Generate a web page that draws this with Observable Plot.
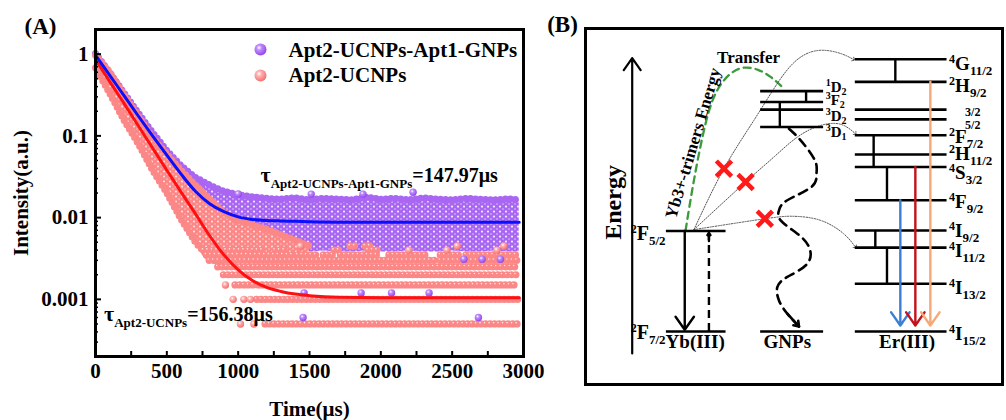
<!DOCTYPE html>
<html><head><meta charset="utf-8">
<script src="https://cdn.jsdelivr.net/npm/d3@7"></script>
<script src="https://cdn.jsdelivr.net/npm/@observablehq/plot@0.6"></script>
<style>
html,body{margin:0;padding:0;background:#fff;}
#wrap{position:relative;width:1006px;height:420px;overflow:hidden;}
#pa{position:absolute;left:0;top:0;}
#pb{position:absolute;left:540px;top:0;}
svg text{font-family:"Liberation Serif","Times New Roman",serif;font-weight:bold;fill:#000;}
</style></head><body><div id="wrap"><div id="pa"></div><div id="pb"></div></div>
<script>
// ================= Panel A data =================
const seriesNames = ["Apt2-UCNPs-Apt1-GNPs", "Apt2-UCNPs"];
const xMajor = [0, 500, 1000, 1500, 2000, 2500, 3000];
const xMinor = [250, 500, 750, 1000, 1250, 1500, 1750, 2000, 2250, 2500, 2750];
const yMajor = [1, 0.1, 0.01, 0.001];
const yMinor = [0.0003,0.0004,0.0005,0.0006,0.0007,0.0008,0.0009,0.002,0.003,0.004,0.005,0.006,0.007,0.008,0.009,0.02,0.03,0.04,0.05,0.06,0.07,0.08,0.09,0.2,0.3,0.4,0.5,0.6,0.7,0.8,0.9];

// fitted decay curves
const fitT    = [0,100,200,300,400,500,600,700,800,900,1000,1100,1200,1300,1400,1500,1700,2000,2500,2970];
const fitBlue = [0.97,0.55,0.31,0.175,0.1,0.058,0.034,0.021,0.0148,0.0118,0.0102,0.0095,0.0092,0.0091,0.009,0.0089,0.0088,0.0088,0.0088,0.0088];
const fitRed  = [0.86,0.46,0.25,0.133,0.071,0.038,0.0205,0.0112,0.006,0.0035,0.0023,0.0017,0.0014,0.00125,0.00116,0.00111,0.00106,0.00105,0.00105,0.00105];

// Apt2-UCNPs-Apt1-GNPs measured points: envelope of the dense cloud
const purpleT  = [0,100,200,300,400,500,600,700,800,900,1000,1100,1200,1300,1400,1500,1600,1700,1800,1900,2000,2100,2200,2300,2400,2500,2600,2700,2800,2900,2970];
const purpleLo = [0.8,0.42,0.23,0.13,0.07,0.038,0.021,0.012,0.008,0.006,0.0048,0.0042,0.004,0.0039,0.0038,0.0038,0.0039,0.0038,0.0038,0.0039,0.0038,0.0038,0.0039,0.0038,0.0038,0.0039,0.0038,0.0038,0.0039,0.0038,0.0038];
const purpleHi = [1.02,0.59,0.335,0.19,0.11,0.066,0.043,0.031,0.025,0.021,0.019,0.018,0.0172,0.0168,0.0175,0.0165,0.0172,0.0168,0.0165,0.0178,0.0168,0.0172,0.0165,0.0175,0.0168,0.0165,0.0172,0.0168,0.0165,0.017,0.0165];
// isolated Apt2-UCNPs-Apt1-GNPs points
const purpleOutT = [1000,1512,1875,2226,1462,1862,2075,2338,1455,2684,2582,2710,2838];
const purpleOutV = [0.0195,0.0194,0.0194,0.0204,0.0012,0.0012,0.0012,0.0012,0.0006,0.0006,0.0031,0.0031,0.0031];

// Apt2-UCNPs measured points: dense decay band
const pinkT  = [0,100,200,300,400,500,600,700,800,900,1000,1100,1200,1300,1400,1500];
const pinkLo = [0.68,0.33,0.155,0.08,0.038,0.02,0.0095,0.005,0.0032,0.0027,0.0032,0.0034,0.0035,0.0035,0.0036,0.0038];
const pinkHi = [0.97,0.6,0.32,0.175,0.095,0.06,0.038,0.025,0.017,0.0115,0.0092,0.0082,0.0072,0.0062,0.0053,0.0045];
// Apt2-UCNPs discrete count levels: level, start, end time
const pinkRowV  = [0.0005,0.0005,0.0005, 0.001,0.001,0.001,0.001, 0.0015,0.0015, 0.002, 0.0025, 0.003,0.003,0.003, 0.0035,0.0035,0.0035,0.0035,0.0035,0.0035,0.0035, 0.004,0.004,0.004,0.004,0.004,0.004,0.004, 0.0045,0.0045,0.0045,0.0045,0.0045];
const pinkRowT0 = [1016,1110,1192, 965,1040,1086,1133, 911,981, 900, 860, 800,1810,2420, 780,1420,1600,1720,2060,2420,2600, 760,1262,1675,1913,2196,2463,2814, 1437,1788,1893,2535,2862];
const pinkRowT1 = [1016,1110,2965, 965,1040,1086,2965, 911,2965, 2965, 2965, 1780,2380,2965, 1390,1560,1690,2000,2320,2560,2965, 1200,1337,1737,1988,2196,2463,2814, 1437,1834,1951,2535,2862];

const tauMain = ["τ", "τ"];
const tauSub  = ["Apt2-UCNPs-Apt1-GNPs", "Apt2-UCNPs"];
const tauVal  = ["=147.97μs", "=156.38μs"];
const tauT    = [1157, 60];
const tauV    = [0.0326, 0.00066];

const purple = "#a866f2", pink = "#fb8787", blue = "#0a10ff", red = "#ff1010";

// ---------- build tables ----------
const fit = fitT.map((t, i) => ({t, blue: fitBlue[i], red: fitRed[i]}));
const pEnv = purpleT.map((t, i) => ({t, lo: purpleLo[i], hi: purpleHi[i]}));
const kEnv = pinkT.map((t, i) => ({t, lo: pinkLo[i], hi: pinkHi[i]}));
const pOut = purpleOutT.map((t, i) => ({t, v: purpleOutV[i]}));
const kRows = pinkRowV.map((v, i) => ({v, t0: pinkRowT0[i], t1: pinkRowT1[i]}));
const kSeg = kRows.filter(d => d.t1 > d.t0);
const kOne = kRows.filter(d => d.t1 === d.t0);
const taus = tauT.map((t, i) => ({t, v: tauV[i], main: tauMain[i], sub: tauSub[i], val: tauVal[i]}));

const svgA = Plot.plot({
  width: 540, height: 420,
  marginLeft: 95, marginRight: 17, marginTop: 29, marginBottom: 64,
  style: {background: "transparent", fontSize: "21px", fontFamily: "Liberation Serif", overflow: "visible"},
  x: {domain: [0, 3000], label: null},
  y: {type: "log", domain: [2e-4, 2], label: null},
  marks: [
    Plot.areaY(pEnv, {x: "t", y1: "lo", y2: "hi", fill: "url(#pPurple)"}),
    Plot.line(pEnv, {x: "t", y: "hi", stroke: purple, strokeWidth: 7, strokeDasharray: "0 5", strokeLinecap: "round"}),
    Plot.areaY(kEnv, {x: "t", y1: "lo", y2: "hi", fill: "url(#pPink)"}),
    Plot.line(kEnv, {x: "t", y: "hi", stroke: pink, strokeWidth: 7, strokeDasharray: "0 5", strokeLinecap: "round"}),
    Plot.line(kEnv.filter(d => d.t <= 900), {x: "t", y: "lo", stroke: pink, strokeWidth: 7, strokeDasharray: "0 5", strokeLinecap: "round"}),
    Plot.ruleY(kSeg, {y: "v", x1: "t0", x2: "t1", stroke: pink, strokeWidth: 7.2, strokeDasharray: "0 4.5", strokeLinecap: "round"}),
    Plot.ruleY(kSeg, {y: "v", x1: "t0", x2: "t1", stroke: "#fff", strokeOpacity: 0.75, strokeWidth: 1.6, strokeDasharray: "0 4.5", strokeLinecap: "round", dx: -1, dy: -1.3}),
    Plot.dot(kOne, {x: "t0", y: "v", r: 3.7, fill: "url(#gK)"}),
    Plot.dot(pOut, {x: "t", y: "v", r: 3.7, fill: "url(#gP)"}),
    Plot.line(fit, {x: "t", y: "red", stroke: red, strokeWidth: 3, curve: "monotone-x"}),
    Plot.line(fit, {x: "t", y: "blue", stroke: blue, strokeWidth: 3, curve: "monotone-x"}),
    Plot.frame({strokeWidth: 3}),
    Plot.axisY({ticks: yMajor, tickSize: 0, tickPadding: 7, tickFormat: d => String(d), fontSize: 21}),
    Plot.axisY({ticks: yMinor, tickSize: -3, strokeWidth: 1.5, tickFormat: () => ""}),
    Plot.axisY({ticks: yMajor, tickSize: -6, strokeWidth: 2, tickFormat: () => ""}),
    Plot.axisX({ticks: xMajor, tickSize: 0, tickPadding: 7, tickFormat: d => String(d), fontSize: 21}),
    Plot.axisX({ticks: xMinor, tickSize: -5, strokeWidth: 2, tickFormat: () => ""}),
    Plot.dot([seriesNames[0]], {frameAnchor: "top-left", dx: 165, dy: 20, r: 6, fill: "url(#gP)"}),
    Plot.text([seriesNames[0]], {frameAnchor: "top-left", dx: 193, dy: 21, text: d => d, textAnchor: "start", lineAnchor: "middle", fontSize: 21}),
    Plot.dot([seriesNames[1]], {frameAnchor: "top-left", dx: 165, dy: 46, r: 6, fill: "url(#gK)"}),
    Plot.text([seriesNames[1]], {frameAnchor: "top-left", dx: 193, dy: 46, text: d => d, textAnchor: "start", lineAnchor: "middle", fontSize: 21}),
    Plot.text(taus, {x: "t", y: "v", text: d => d.main + d.sub + d.val, textAnchor: "start", lineAnchor: "middle", fontSize: 20}),
    Plot.text(["(A)"], {frameAnchor: "top-left", dx: -55, dy: -3, text: d => d, textAnchor: "middle", lineAnchor: "middle", fontSize: 23}),
    Plot.text(["Intensity(a.u.)"], {frameAnchor: "left", dx: -74, rotate: -90, text: d => d, textAnchor: "middle", lineAnchor: "middle", fontSize: 21}),
    Plot.text(["Time(μs)"], {frameAnchor: "bottom", dy: 53, text: d => d, textAnchor: "middle", lineAnchor: "middle", fontSize: 21})
  ]
});

d3.select(svgA).insert("defs", ":first-child").html(`
  <pattern id="pPurple" patternUnits="userSpaceOnUse" width="6" height="5">
    <rect width="6" height="5" fill="${purple}"/>
    <circle cx="2" cy="1.6" r="1.1" fill="#fff" fill-opacity="0.85"/>
    <circle cx="5" cy="4" r="0.8" fill="#e4cdff"/>
  </pattern>
  <pattern id="pPink" patternUnits="userSpaceOnUse" width="6" height="5">
    <rect width="6" height="5" fill="${pink}"/>
    <circle cx="2" cy="1.6" r="1" fill="#fff" fill-opacity="0.8"/>
    <circle cx="5" cy="4" r="0.7" fill="#ffd9d9"/>
  </pattern>
  <radialGradient id="gP" cx="0.38" cy="0.35" r="0.7">
    <stop offset="0" stop-color="#ffffff"/><stop offset="0.3" stop-color="#c08cff"/><stop offset="1" stop-color="#8e3fe6"/>
  </radialGradient>
  <radialGradient id="gK" cx="0.38" cy="0.35" r="0.7">
    <stop offset="0" stop-color="#ffffff"/><stop offset="0.3" stop-color="#ffb0b0"/><stop offset="1" stop-color="#f46a6a"/>
  </radialGradient>`);

// ================= Panel B data (energy in arbitrary units; columns in layout units) =================
const ybX = [19.4, 33.7], gnpX = [42.0, 57.1], erX = [64.7, 86.7];
const ybE = [36.9, 0];
const ybSup = ["2", "2"], ybMain = ["F", "F"], ybSub = ["5/2", "7/2"], ybLabE = [36.0, -0.4];
const gnpE = [88.3, 84.3, 81.5, 75.1, 0];
const gnpSup = ["1", "3", "3", "3"], gnpMain = ["D", "F", "D", "D"], gnpSub = ["2", "2", "2", "1"], gnpLabE = [89.6, 84.9, 78.9, 73.3];
const erE = [100, 91.7, 81.5, 77.9, 72.1, 65.0, 60.4, 48.2, 37.1, 30.8, 17.5, 0];
const erSup  = ["4", "2", "", "", "2", "2", "4", "4", "4", "4", "4", "4"];
const erMain = ["G", "H", "", "", "F", "H", "S", "F", "I", "I", "I", "I"];
const erSub  = ["11/2", "9/2", "3/2", "5/2", "7/2", "11/2", "3/2", "9/2", "9/2", "11/2", "13/2", "15/2"];
const erLabE = [98.4, 90.1, 81.5, 76.7, 71.4, 65.2, 58.3, 47.5, 36.8, 29.5, 16.1, -0.8];
// vertical connectors [x, e1, e2]
const connX  = [74.3, 69.1, 72.3, 69.5, 72.3, 52.9, 46.6];
const connE1 = [100, 72.1, 60.4, 37.1, 30.8, 88.3, 84.3];
const connE2 = [91.7, 60.4, 48.2, 30.8, 17.5, 84.3, 75.1];
// emission arrows in Er(III)
const emX = [75.5, 79.1, 82.7], emFrom = [48.2, 60.4, 91.7], emTo = [2.2, 2.2, 2.2];
const emColor = ["#3b7fd4", "#c4121a", "#f6a877"];
// Yb arrows
const ybArrowX = [23.8, 29.6], ybArrowFrom = [36.9, 0], ybArrowTo = [0.6, 36.2];
const energyAxis = [11.2, -8.1, 100.4];
// curves
const greenCurve = [[24.0,37.1],[26.0,55.5],[28.8,76.4],[31.6,88.6],[34.8,94.7],[38.0,96.9],[41.2,96.2],[44.4,93.5],[47.6,89.2]];
const transferToG = [[26.0,37.4],[33.2,59.8],[40.4,77.6],[46.8,92.9],[51.6,100.8],[56.4,103.3],[61.2,102.1],[64.3,99.9]];
const transferToF = [[26.0,37.4],[38.4,54.9],[45.2,64.1],[50.8,71.4],[56.4,75.7],[61.2,76.1],[64.7,72.7]];
const transferToI = [[26.0,37.4],[43.0,41.4],[50.0,42.3],[56.4,40.8],[61.9,35.9],[64.7,31.0]];
const wavy = [[48.8,74.5],[51.6,70.2],[55.0,62.9],[55.4,58.0],[54.2,53.1],[48.4,48.2],[46.4,44.5],[46.8,40.8],[50.8,35.9],[53.6,31.0],[53.2,24.9],[48.4,20.0],[46.0,16.3],[46.4,11.4],[48.4,6.5],[51.2,1.8]];
const blocked = [[33.2,59.8],[38.4,54.9],[43.0,41.4]];
const columnNames = ["Yb(III)", "GNPs", "Er(III)"], columnNameX = [26.3, 48.4, 77.1], columnNameE = -3.9;

// ---------- build tables ----------
const levels = [
  ...ybE.map(e => ({e, x1: ybX[0], x2: ybX[1]})),
  ...gnpE.map(e => ({e, x1: gnpX[0], x2: gnpX[1]})),
  ...erE.map(e => ({e, x1: erX[0], x2: erX[1]}))
];
const conns = connX.map((x, i) => ({x, e1: connE1[i], e2: connE2[i]}));
const ems = emX.map((x, i) => ({x, from: emFrom[i], to: emTo[i], color: emColor[i]}));
const ybLabs = ybSup.map((s, i) => ({x: ybX[0] - 0.2, e: ybLabE[i], sup: s, main: ybMain[i], sub: ybSub[i]}));
const gnpLabs = gnpSup.map((s, i) => ({x: gnpX[1] + 0.5, e: gnpLabE[i], sup: s, main: gnpMain[i], sub: gnpSub[i]}));
const erLabs = erSup.map((s, i) => ({x: erX[1] + 0.5, e: erLabE[i], sup: s, main: erMain[i], sub: erSub[i]}));
const curves = [
  ...transferToG.map(([u, e]) => ({u, e, id: "G"})),
  ...transferToF.map(([u, e]) => ({u, e, id: "F"})),
  ...transferToI.map(([u, e]) => ({u, e, id: "I"}))
];
const green = greenCurve.map(([u, e]) => ({u, e}));
const wav = wavy.map(([u, e]) => ({u, e}));
const wavEnd = [{x1: wavy[wavy.length - 2][0], y1: wavy[wavy.length - 2][1], x2: wavy[wavy.length - 1][0], y2: wavy[wavy.length - 1][1]}];
const xs = blocked.map(([u, e]) => ({u, e}));
const names = columnNames.map((n, i) => ({n, x: columnNameX[i], e: columnNameE}));

const svgB = Plot.plot({
  width: 466, height: 420,
  marginLeft: 45, marginRight: 4, marginTop: 28, marginBottom: 36,
  style: {background: "transparent", fontSize: "19px", fontFamily: "Liberation Serif"},
  x: {domain: [0, 100], axis: null},
  y: {domain: [-19.5, 111.3], axis: null},
  marks: [
    Plot.frame({strokeWidth: 3}),
    Plot.arrow([energyAxis], {x: d => d[0], y1: d => d[1], y2: d => d[2], strokeWidth: 2.2, headLength: 10, headAngle: 70}),
    Plot.line(green, {x: "u", y: "e", curve: "natural", stroke: "#3c9a3c", strokeWidth: 2.3, strokeDasharray: "7 5"}),
    Plot.line(curves, {x: "u", y: "e", z: "id", curve: "natural", stroke: "#555", strokeWidth: 1, strokeDasharray: "1.3 1.4", markerEnd: "arrow"}),
    Plot.line(wav, {x: "u", y: "e", curve: "natural", stroke: "#000", strokeWidth: 2.6, strokeDasharray: "9 6"}),
    Plot.arrow(wavEnd, {x1: "x1", y1: "y1", x2: "x2", y2: "y2", strokeWidth: 2.6, headLength: 10, headAngle: 70}),
    Plot.ruleY(levels, {y: "e", x1: "x1", x2: "x2", strokeWidth: 2.6}),
    Plot.ruleX(conns, {x: "x", y1: "e1", y2: "e2", strokeWidth: 2.4}),
    Plot.arrow([0], {x: () => ybArrowX[0], y1: () => ybArrowFrom[0], y2: () => ybArrowTo[0], strokeWidth: 2.4, headLength: 10, headAngle: 70}),
    Plot.ruleX([0], {x: () => ybArrowX[1], y1: () => ybArrowFrom[1], y2: () => ybArrowTo[1], strokeWidth: 2.4, strokeDasharray: "8 5"}),
    Plot.arrow([0], {x: () => ybArrowX[1], y1: () => ybArrowTo[1] - 3, y2: () => ybArrowTo[1], strokeWidth: 2.4, headLength: 10, headAngle: 70}),
    Plot.arrow(ems, {x: "x", y1: "from", y2: "to", stroke: "color", strokeWidth: 2.4, headLength: 10, headAngle: 70}),
    Plot.dot(xs, {x: "u", y: "e", symbol: "times", r: 7, stroke: "#ff1a1a", strokeWidth: 4.5}),
    Plot.text(ybLabs, {x: "x", y: "e", text: d => d.sup + d.main + d.sub, textAnchor: "end", lineAnchor: "middle", fontSize: 20}),
    Plot.text(gnpLabs, {x: "x", y: "e", text: d => d.sup + d.main + d.sub, textAnchor: "start", lineAnchor: "middle", fontSize: 15}),
    Plot.text(erLabs, {x: "x", y: "e", text: d => d.sup + d.main + d.sub, textAnchor: "start", lineAnchor: "middle", fontSize: 19}),
    Plot.text(names, {x: "x", y: "e", text: "n", fontSize: 19}),
    Plot.text(["Energy"], {x: () => 6.7, y: () => 47.4, text: d => d, rotate: -90, fontSize: 24}),
    Plot.text(["Transfer"], {x: () => 39.1, y: () => 100.7, text: d => d, fontSize: 17}),
    Plot.text(["Yb3+-trimers Energy"], {x: () => 25.8, y: () => 69.1, text: d => d, rotate: -73.3, fontSize: 17}),
    Plot.text(["(B)"], {frameAnchor: "top-left", dx: -23, dy: -4, text: d => d, textAnchor: "middle", lineAnchor: "middle", fontSize: 23})
  ]
});

// ---------- rich text (superscripts / subscripts), matched by text content ----------
const richDone = new Set();
function rich(svg, items, keyFn, build) {
  const texts = Array.from(svg.querySelectorAll("text"));
  for (const it of items) {
    const key = keyFn(it);
    const node = texts.find(n => !richDone.has(n) && n.textContent === key);
    if (!node) continue;
    richDone.add(node);
    node.textContent = "";
    for (const p of build(it)) {
      if (!p.t) continue;
      const ts = document.createElementNS("http://www.w3.org/2000/svg", "tspan");
      ts.textContent = p.t;
      if (p.size) ts.setAttribute("font-size", p.size);
      if (p.dy) ts.setAttribute("dy", p.dy);
      if (p.dx) ts.setAttribute("dx", p.dx);
      node.appendChild(ts);
    }
  }
}
const termKey = d => d.sup + d.main + d.sub;
const termParts = d => d.main === ""
  ? [{t: d.sub, size: 12, dx: 16}]
  : [{t: d.sup, size: 12, dy: -7}, {t: d.main, dy: 7}, {t: d.sub, size: 13, dy: 5}];
const gnpParts = d => [{t: d.sup, size: 10, dy: -6}, {t: d.main, dy: 6}, {t: d.sub, size: 10, dy: 3}];
rich(svgA, taus, d => d.main + d.sub + d.val, d => [{t: d.main, size: 22}, {t: d.sub, size: 13, dy: 6}, {t: d.val, dy: -6}]);
rich(svgB, ybLabs, termKey, termParts);
rich(svgB, gnpLabs, termKey, gnpParts);
rich(svgB, erLabs, termKey, termParts);

document.getElementById("pa").appendChild(svgA);
document.getElementById("pb").appendChild(svgB);
</script>
</body></html>
